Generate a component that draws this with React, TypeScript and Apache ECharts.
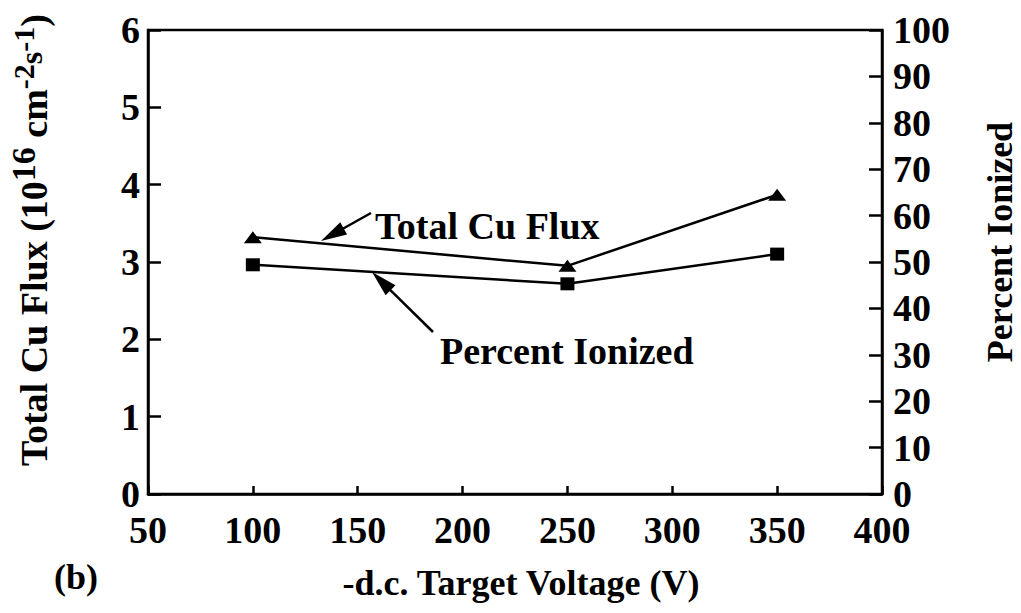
import React, { useEffect, useRef } from "react";
import * as echarts from "echarts";

// Measured points: -d.c. target voltage (V)
const voltage = [100, 250, 350];
// Total Cu flux (10^16 cm^-2 s^-1), left axis
const totalFlux = [3.32, 2.95, 3.87];
// Percent ionized (%), right axis
const percentIonized = [49.4, 45.3, 51.7];

const xTicks = { min: 50, max: 400, interval: 50 };
const fluxTicks = { min: 0, max: 6, interval: 1 };
const percentTicks = { min: 0, max: 100, interval: 10 };

// Left title pieces: text, font size, baseline lift
const fluxTitleParts: [string, number, number][] = [
  ["Total Cu Flux (10", 38, 0],
  ["16", 34, 12],
  [" cm", 38, 0],
  ["-2", 30, 13],
  ["s", 32, 5],
  ["-1", 30, 13],
  [")", 38, 0],
];

const FONT = '"Liberation Serif", "Times New Roman", serif';

// Straight arrow from a tail point to a tip point with a filled head.
function arrow(x1: number, y1: number, x2: number, y2: number, headLen = 26, headW = 7) {
  const dx = x2 - x1;
  const dy = y2 - y1;
  const len = Math.sqrt(dx * dx + dy * dy);
  const ux = dx / len;
  const uy = dy / len;
  const bx = x2 - ux * headLen;
  const by = y2 - uy * headLen;
  const px = -uy * headW;
  const py = ux * headW;
  return [
    {
      type: "line",
      shape: { x1, y1, x2: bx + ux * 2, y2: by + uy * 2 },
      style: { stroke: "#000", lineWidth: 2.5 },
    },
    {
      type: "polygon",
      shape: { points: [[x2, y2], [bx + px, by + py], [bx - px, by - py]] },
      style: { fill: "#000" },
    },
  ];
}

// Rotated title built from pieces, so exponents sit raised on their own.
function rotatedTitle(parts: [string, number, number][], cx: number, cy: number) {
  const ctx = document.createElement("canvas").getContext("2d");
  const widths = parts.map(([t, size]) => {
    if (!ctx) return t.length * size * 0.5;
    ctx.font = `bold ${size}px ${FONT}`;
    return ctx.measureText(t).width;
  });
  const total = widths.reduce((a, b) => a + b, 0);
  let x = -total / 2;
  const children = parts.map(([t, size, lift], i) => {
    const el = {
      type: "text",
      x,
      // box bottom sits one descent below the shared baseline
      y: 12 + size * 0.22 - lift,
      style: {
        text: t,
        fontFamily: FONT,
        fontWeight: "bold",
        fontSize: size,
        fill: "#000",
        align: "left",
        verticalAlign: "bottom",
      },
    };
    x += widths[i];
    return el;
  });
  return { type: "group", x: cx, y: cy, rotation: Math.PI / 2, children };
}

export default function App() {
  const ref = useRef<HTMLDivElement>(null);

  useEffect(() => {
    if (!ref.current) return;
    const chart = echarts.init(ref.current, null, { renderer: "svg" });
    const labelStyle = {
      color: "#000",
      fontFamily: FONT,
      fontWeight: "bold" as const,
      fontSize: 38,
      lineHeight: 30,
    };
    const axisLine = { show: true, lineStyle: { color: "#000", width: 2.5 } };
    const titleText = (text: string, x: number, y: number, size: number, rotation = 0) => ({
      type: "text",
      x,
      y,
      rotation,
      style: {
        text,
        fontFamily: FONT,
        fontWeight: "bold",
        fontSize: size,
        fill: "#000",
        align: "center",
        verticalAlign: "middle",
      },
    });

    chart.setOption({
      animation: false,
      backgroundColor: "#fff",
      grid: {
        left: 148,
        right: 139,
        top: 30,
        bottom: 119,
        show: true,
        borderColor: "#000",
        borderWidth: 2.5,
        backgroundColor: "transparent",
      },
      xAxis: {
        type: "value",
        ...xTicks,
        axisLine,
        axisTick: { show: true, inside: true, length: 8, lineStyle: { color: "#000", width: 2.5 } },
        axisLabel: { ...labelStyle, margin: 21 },
        splitLine: { show: false },
      },
      yAxis: [
        {
          type: "value",
          position: "left",
          ...fluxTicks,
          axisLine,
          axisTick: { show: true, inside: true, length: 13, lineStyle: { color: "#000", width: 2.5 } },
          axisLabel: { ...labelStyle, margin: 8 },
          splitLine: { show: false },
        },
        {
          type: "value",
          position: "right",
          ...percentTicks,
          axisLine,
          axisTick: { show: true, inside: true, length: 13, lineStyle: { color: "#000", width: 2.5 } },
          axisLabel: { ...labelStyle, margin: 11 },
          splitLine: { show: false },
        },
      ],
      series: [
        {
          name: "Total Cu Flux",
          type: "line",
          yAxisIndex: 0,
          data: voltage.map((v, i) => [v, totalFlux[i]]),
          symbol: "triangle",
          symbolSize: [18, 12],
          lineStyle: { color: "#000", width: 2.5 },
          itemStyle: { color: "#000" },
        },
        {
          name: "Percent Ionized",
          type: "line",
          yAxisIndex: 1,
          data: voltage.map((v, i) => [v, percentIonized[i]]),
          symbol: "rect",
          symbolSize: [14, 13],
          lineStyle: { color: "#000", width: 2.5 },
          itemStyle: { color: "#000" },
        },
      ],
      graphic: [
        rotatedTitle(fluxTitleParts, 33, 240),
        titleText("Percent Ionized", 1000, 242, 36, Math.PI / 2),
        titleText("-d.c. Target Voltage (V)", 521, 583, 36),
        {
          type: "text",
          x: 54,
          y: 577,
          style: {
            text: "(b)",
            fontFamily: FONT,
            fontWeight: "bold",
            fontSize: 36,
            fill: "#000",
            verticalAlign: "middle",
          },
        },
        {
          type: "text",
          x: 375,
          y: 226,
          style: {
            text: "Total Cu Flux",
            fontFamily: FONT,
            fontWeight: "bold",
            fontSize: 38,
            fill: "#000",
            verticalAlign: "middle",
          },
        },
        {
          type: "text",
          x: 440,
          y: 351,
          style: {
            text: "Percent Ionized",
            fontFamily: FONT,
            fontWeight: "bold",
            fontSize: 38,
            fill: "#000",
            verticalAlign: "middle",
          },
        },
        { type: "group", children: arrow(371, 213, 321, 241) },
        { type: "group", children: arrow(433, 332, 372, 272) },
      ],
    });

    return () => chart.dispose();
  }, []);

  return (
    <div
      ref={ref}
      style={{ position: "fixed", left: 0, top: 0, width: 1021, height: 613 }}
    />
  );
}
